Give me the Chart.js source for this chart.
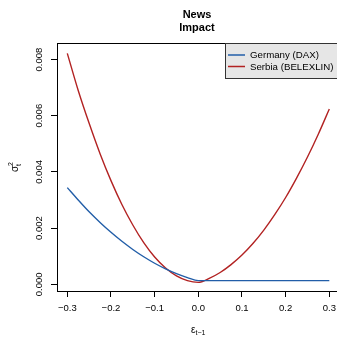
<!DOCTYPE html>
<html>
<head>
<meta charset="utf-8">
<script src="https://cdn.jsdelivr.net/npm/chart.js@4.4.1/dist/chart.umd.min.js"></script>
<style>
  html, body { margin: 0; padding: 0; background: #fff; }
  #wrap { width: 337px; height: 339px; }
</style>
</head>
<body>
<div id="wrap"><canvas id="nic" width="337" height="339"></canvas></div>
<script>
// lagged shock values (x) and conditional variance
const shocks = [-0.3, -0.275, -0.25, -0.225, -0.2, -0.175, -0.15, -0.125, -0.1, -0.075, -0.05, -0.025,
    0, 0.025, 0.05, 0.075, 0.1, 0.125, 0.15, 0.175, 0.2, 0.225, 0.25, 0.275, 0.3];
const germany = [0.00344, 0.00300, 0.00258, 0.00220, 0.00185, 0.00153, 0.00124, 0.00098, 0.00075, 0.00055, 0.00038, 0.00024,
    0.00013, 0.00013, 0.00013, 0.00013, 0.00013, 0.00013, 0.00013, 0.00013, 0.00013, 0.00013, 0.00013, 0.00013, 0.00013];
const serbia = [0.00822, 0.00690, 0.00573, 0.00465, 0.00369, 0.00284, 0.00211, 0.00148, 0.00097, 0.00058, 0.00030, 0.00013,
    0.00007, 0.00021, 0.00042, 0.00070, 0.00104, 0.00145, 0.00193, 0.00248, 0.00309, 0.00378, 0.00453, 0.00535, 0.00624];
const seriesNames = ['Germany (DAX)', 'Serbia (BELEXLIN)'];
const seriesColors = ['#225ea8', '#b22222'];
const xTicks = [-0.3, -0.2, -0.1, 0, 0.1, 0.2, 0.3];
const yTicks = [0, 0.002, 0.004, 0.006, 0.008];

const FONT = '"Liberation Sans", Arial, Helvetica, sans-serif';

function toPoints(ys) {
    return shocks.map((x, i) => ({ x: x, y: ys[i] }));
}

function fmtX(v) {
    return v.toFixed(1).replace('-', '\u2212');
}

// title, legend box, axis titles and top frame line in the R base-graphics look
const rDecor = {
    id: 'rDecor',
    afterDraw(chart) {
        const ctx = chart.ctx;
        const area = chart.chartArea;
        const mid = (area.left + area.right) / 2;
        ctx.save();

        ctx.strokeStyle = '#000';
        ctx.lineWidth = 1;
        ctx.beginPath();
        ctx.moveTo(area.left, area.top + 0.5);
        ctx.lineTo(chart.width, area.top + 0.5);
        ctx.stroke();

        ctx.fillStyle = '#000';
        ctx.textAlign = 'center';
        ctx.textBaseline = 'alphabetic';
        ctx.font = 'bold 11px ' + FONT;
        ctx.fillText('News', mid, 17.5);
        ctx.fillText('Impact', mid, 30.5);

        // legend
        ctx.fillStyle = '#e6e6e6';
        ctx.fillRect(225, 43, 120, 35);
        ctx.strokeStyle = '#333';
        ctx.strokeRect(225.5, 43.5, 120, 35);
        ctx.font = '9.7px ' + FONT;
        ctx.textAlign = 'left';
        ctx.textBaseline = 'middle';
        seriesNames.forEach((name, i) => {
            const y = 55 + i * 11.5;
            ctx.strokeStyle = seriesColors[i];
            ctx.lineWidth = 1.5;
            ctx.beginPath();
            ctx.moveTo(228, y);
            ctx.lineTo(245, y);
            ctx.stroke();
            ctx.fillStyle = '#000';
            ctx.fillText(name, 250, y + 0.5);
        });

        // x axis title: epsilon_{t-1}
        ctx.textBaseline = 'alphabetic';
        ctx.font = '10px ' + FONT;
        ctx.fillText('\u03b5', 191, 333);
        ctx.font = '7px ' + FONT;
        ctx.fillText('t\u22121', 195.5, 335);

        // y axis title: sigma^2_t
        ctx.translate(15, 167);
        ctx.rotate(-Math.PI / 2);
        ctx.font = '10px ' + FONT;
        ctx.fillText('\u03c3', -5, 3);
        ctx.font = '7px ' + FONT;
        ctx.fillText('2', 1, -2);
        ctx.fillText('t', 1, 6);

        ctx.restore();
    }
};

const config = {
    type: 'line',
    data: {
        datasets: [
            {
                label: seriesNames[0],
                data: toPoints(germany),
                borderColor: seriesColors[0],
                borderWidth: 1.4,
                pointRadius: 0,
                cubicInterpolationMode: 'monotone'
            },
            {
                label: seriesNames[1],
                data: toPoints(serbia),
                borderColor: seriesColors[1],
                borderWidth: 1.4,
                pointRadius: 0,
                cubicInterpolationMode: 'monotone'
            }
        ]
    },
    options: {
        responsive: false,
        animation: false,
        devicePixelRatio: 1,
        layout: { padding: { top: 43, right: 0, bottom: 0, left: 0 } },
        plugins: {
            legend: { display: false },
            title: { display: false },
            tooltip: { enabled: false }
        },
        scales: {
            x: {
                type: 'linear',
                min: -0.3236,
                max: 0.3176,
                afterBuildTicks: s => { s.ticks = xTicks.map(v => ({ value: v })); },
                afterFit: s => { s.height = 48; s.paddingLeft = 0; s.paddingRight = 0; },
                ticks: {
                    autoSkip: false,
                    maxRotation: 0,
                    padding: 6,
                    color: '#000',
                    font: { family: FONT, size: 9.5 },
                    callback: v => fmtX(v)
                },
                grid: { drawOnChartArea: false, drawTicks: true, tickLength: 6, color: '#000' },
                border: { display: true, color: '#000', width: 1 }
            },
            y: {
                type: 'linear',
                min: -0.000238,
                max: 0.008588,
                afterBuildTicks: s => { s.ticks = yTicks.map(v => ({ value: v })); },
                afterFit: s => { s.width = 57; s.paddingTop = 0; s.paddingBottom = 0; },
                ticks: {
                    autoSkip: false,
                    minRotation: 90,
                    maxRotation: 90,
                    crossAlign: 'center',
                    padding: 0,
                    color: '#000',
                    font: { family: FONT, size: 9.5 },
                    callback: v => v.toFixed(3)
                },
                grid: { drawOnChartArea: false, drawTicks: true, tickLength: 6, color: '#000' },
                border: { display: true, color: '#000', width: 1 }
            }
        }
    },
    plugins: [rDecor]
};

new Chart(document.getElementById('nic'), config);
</script>
</body>
</html>
